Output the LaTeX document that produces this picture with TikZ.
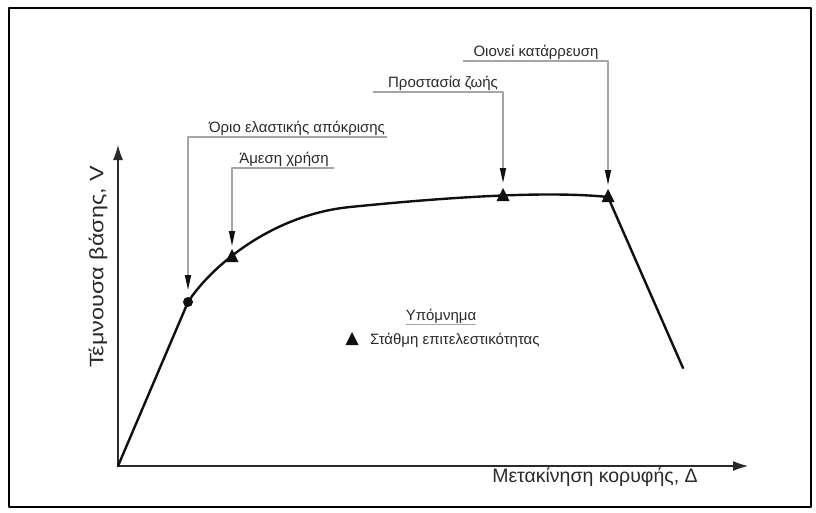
\documentclass[tikz,border=0pt]{standalone}
\usepackage{fontspec}
\setmainfont{Liberation Sans}
\usetikzlibrary{arrows.meta,calc}
\newcommand{\Unit}{1pt}
\newcommand{\Curve}{2.4pt}
\newcommand{\TriHalf}{6.5}
\newcommand{\TriUp}{8}
\newcommand{\TriDown}{5}
\definecolor{ink}{HTML}{101010}
\definecolor{leader}{HTML}{A9A59C}
\definecolor{axisgray}{HTML}{2A2A2A}
% one filled triangle, the mark of a performance level
\newcommand{\PerfMark}[1]{%
  \fill[ink] ($(#1)+(0,-\TriUp)$) -- ($(#1)+(\TriHalf,\TriDown)$) -- ($(#1)+(-\TriHalf,\TriDown)$) -- cycle;}

\begin{document}
\begin{tikzpicture}[x=\Unit,y=-\Unit, line join=round, line cap=round,
  axis/.style={axisgray,line width=1.1pt,-{Latex[length=15pt,width=10pt]}},
  leaderline/.style={leader,line width=1.4pt,line cap=butt,
    -{Triangle[length=15pt,width=6pt,color=ink]}},
  lbl/.style={inner sep=0pt,text=axisgray,font=\fontsize{15}{18}\selectfont},
  axlbl/.style={inner sep=0pt,text=axisgray,font=\fontsize{19.5}{22}\selectfont}]

  % ---- frame --------------------------------------------------------------
  \useasboundingbox (0,0) rectangle (816,512);
  \draw[black,line width=2pt] (9,8) rectangle (811,507);

  % ---- axes ---------------------------------------------------------------
  \coordinate (O) at (118,466);
  \coordinate (Ytip) at (118,145);
  \coordinate (Xtip) at (748,466);
  \draw[axis] (O) -- (Ytip);
  \draw[axis] (O) -- (Xtip);
  \node[axlbl, rotate=90] (vlab) at (98,267) {\scalebox{1.2}[1]{Τέμνουσα βάσης, V}};
  \node[axlbl] (dlab) at (595,477) {Μετακίνηση κορυφής, Δ};

  % ---- capacity curve -----------------------------------------------------
  \coordinate (yield) at (188,302);
  \coordinate (io) at (232,257);
  \coordinate (ls) at (503,196);
  \coordinate (cp) at (608,197);
  \coordinate (drop) at (683,368);
  \draw[ink,line width=\Curve] (O) -- (yield)
    .. controls (210,268) and (270,215) .. (350,207)
    .. controls (430,199) and (540,190) .. (cp)
    -- (drop);

  \fill[ink] (yield) circle (5);
  \PerfMark{io}
  \PerfMark{ls}
  \PerfMark{cp}

  % ---- call-outs ----------------------------------------------------------
  \node[lbl, anchor=base] (tyield) at (297,132) {Όριο ελαστικής απόκρισης};
  \node[lbl, anchor=base] (tio) at (284,163) {Άμεση χρήση};
  \node[lbl, anchor=base] (tls) at (443,87) {Προστασία ζωής};
  \node[lbl, anchor=base] (tcp) at (536,56) {Οιονεί κατάρρευση};

  \draw[leaderline] ([shift={(2pt,-1.5pt)}]tyield.south east) -| ([yshift=12pt]yield);
  \draw[leaderline] ([shift={(5pt,-1.5pt)}]tio.south east) -| ([yshift=11pt]io);
  \draw[leaderline] ([shift={(-15pt,-1.5pt)}]tls.south west) -| ([yshift=13pt]ls);
  \draw[leaderline] ([shift={(-10pt,-1.5pt)}]tcp.south west) -| ([yshift=12pt]cp);

  % ---- legend -------------------------------------------------------------
  \node[lbl, anchor=base] (legtitle) at (441,320) {Υπόμνημα};
  \draw[leader,line width=1.4pt,line cap=butt]
    ([yshift=-1pt]legtitle.south west) -- ([yshift=-1pt]legtitle.south east);
  \coordinate (legmark) at (352,340);
  \PerfMark{legmark}
  \node[lbl, anchor=base west] (legtext) at (370,344) {Στάθμη επιτελεστικότητας};

\end{tikzpicture}
\end{document}
